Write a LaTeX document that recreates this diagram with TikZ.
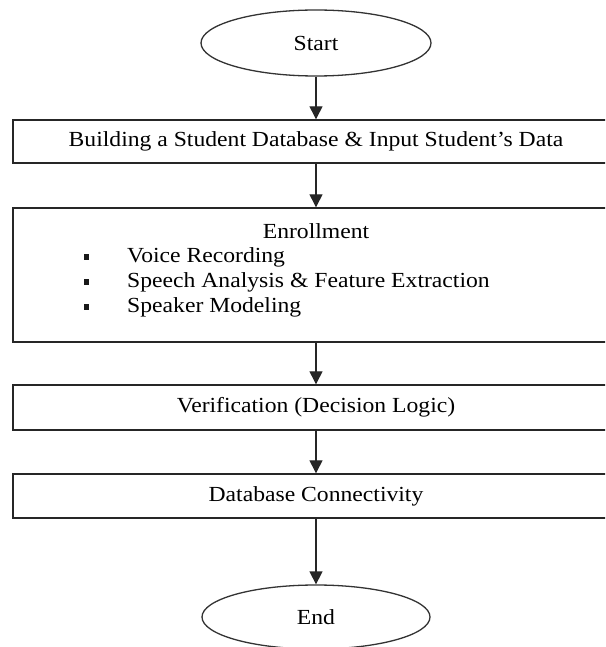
\documentclass[tikz,border=0pt]{standalone}
\usepackage{fontspec}
\setmainfont[FakeStretch=1.1]{Liberation Serif}
\usetikzlibrary{arrows.meta,shapes.geometric}
\begin{document}
\begin{tikzpicture}[x=1pt,y=-1pt,
  every node/.style={font=\fontsize{21.5}{25}\selectfont, inner sep=0pt, text=black},
  boxnode/.style={draw=black!85, line width=1.4pt, rectangle, minimum width=606pt},
  oval/.style={draw=black!80, line width=1.3pt, ellipse, inner sep=0pt},
  conn/.style={draw=black!85, line width=1.3pt, -{Triangle[width=13pt,length=13pt]}},
  bulletmark/.style={fill=black!90, minimum width=5pt, minimum height=6pt, inner sep=0pt, rectangle},
  itemtext/.style={anchor=west}
]
\useasboundingbox (0,0) rectangle (605,647);
\clip (0,0) rectangle (605,647);
\node[oval, minimum width=230pt, minimum height=66pt] (start) at (316,43) {Start};
\node[boxnode, minimum height=43pt] (build) at (316,141.5) {Building a Student Database \& Input Student’s Data};
\node[boxnode, minimum height=134pt] (enr) at (316,275) {};
\node (enrt) at (316,231) {Enrollment};
\node[bulletmark] (b1) at (86,257) {};
\node[bulletmark] (b2) at (86,282) {};
\node[bulletmark] (b3) at (86,307) {};
\node[itemtext] (i1) at (127,257) {Voice Recording};
\node[itemtext] (i2) at (127,282) {Speech Analysis \& Feature Extraction};
\node[itemtext] (i3) at (127,307) {Speaker Modeling};
\node[boxnode, minimum height=45pt] (ver) at (316,407.5) {Verification (Decision Logic)};
\node[boxnode, minimum height=44pt] (db) at (316,496) {Database Connectivity};
\node[oval, minimum width=228pt, minimum height=64pt] (end) at (316,617) {End};
\draw[conn] (start) -- (build);
\draw[conn] (build) -- (enr);
\draw[conn] (enr) -- (ver);
\draw[conn] (ver) -- (db);
\draw[conn] (db) -- (end);
\end{tikzpicture}
\end{document}
